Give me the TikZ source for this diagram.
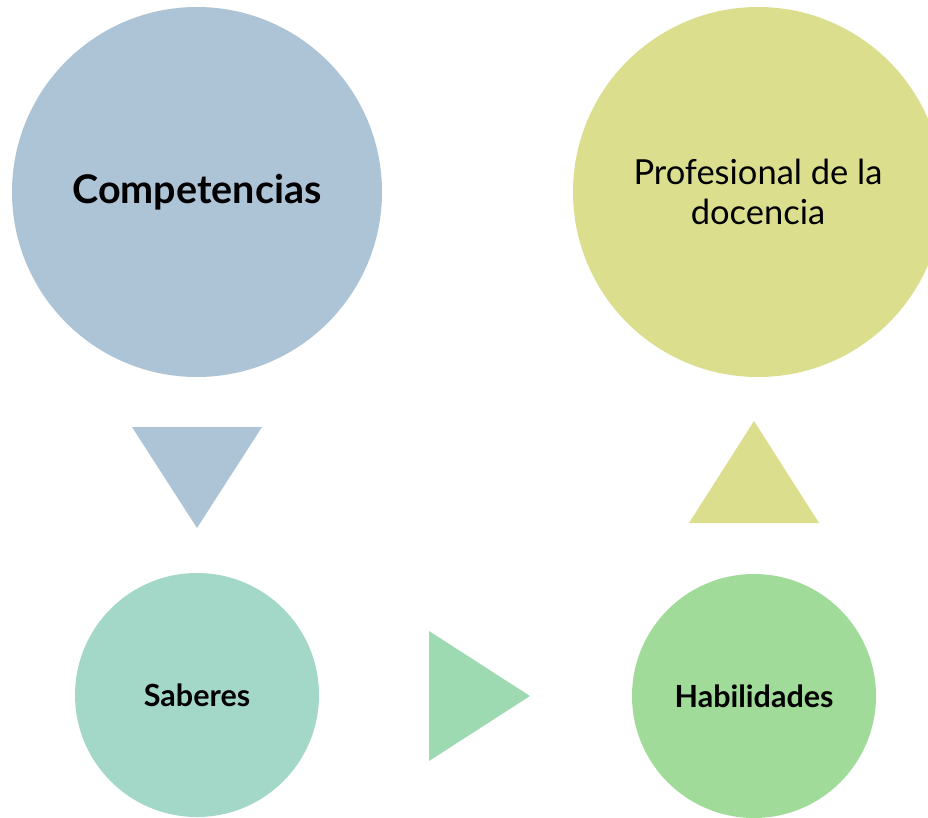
\documentclass[tikz,border=0pt]{standalone}
\usepackage{fontspec}
\setmainfont{Lato}
\definecolor{compblue}{HTML}{ADC4D7}
\definecolor{profgreen}{HTML}{DADE8D}
\definecolor{sabteal}{HTML}{A3D8C9}
\definecolor{habgreen}{HTML}{A0DB9A}
\definecolor{arrowmint}{HTML}{9DD9B1}
\tikzstyle{bigcirc}=[circle, minimum size=370pt, inner sep=0pt, align=center,
  text=black]
\tikzstyle{smallcirc}=[circle, minimum size=244pt, inner sep=0pt,
  align=center, text=black]
\tikzstyle{comptext}=[font=\fontsize{39.5}{44}\selectfont\bfseries]
\tikzstyle{proftext}=[font=\fontsize{34.5}{40}\selectfont]
\tikzstyle{smalltext}=[font=\fontsize{30.5}{34}\selectfont\bfseries]

\begin{document}
\begin{tikzpicture}[x=1pt,y=-1pt]
  \useasboundingbox (0,0) rectangle (928,817);
  \clip (0,0) rectangle (928,817);

  % Draw the circles
  \path (197,192) node (comp) [bigcirc, comptext, fill=compblue] {Competencias};
  \path (758,192) node (prof) [bigcirc, proftext, fill=profgreen]
    {Profesional de la\\docencia};
  \path (197,695) node (sab) [smallcirc, smalltext, fill=sabteal] {Saberes};
  \path (754,696) node (hab) [smallcirc, smalltext, fill=habgreen] {Habilidades};

  % Draw the triangles between circles
  \path [fill=compblue] (132,427) -- (262,427) -- (197,528) -- cycle;
  \path [fill=arrowmint] (429,631) -- (530,696) -- (429,761) -- cycle;
  \path [fill=profgreen] (689,523) -- (754,421) -- (819,523) -- cycle;
\end{tikzpicture}
\end{document}
